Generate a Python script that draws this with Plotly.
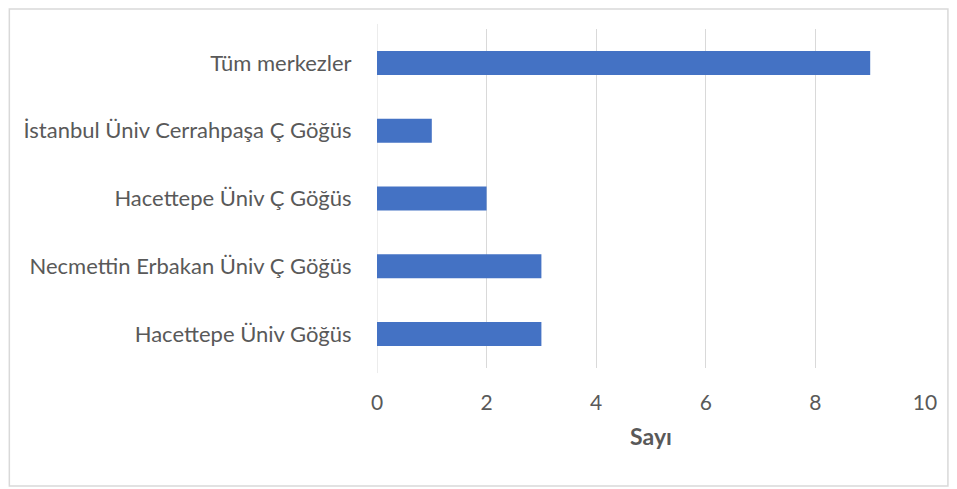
import plotly.graph_objects as go

categories = ["Hacettepe Üniv Göğüs", "Necmettin Erbakan Üniv Ç Göğüs", "Hacettepe Üniv Ç Göğüs",
              "İstanbul Üniv Cerrahpaşa Ç Göğüs", "Tüm merkezler"]
values = [3, 3, 2, 1, 9]
x_ticks = [0, 2, 4, 6, 8, 10]

FONT = "Lato, Carlito, Calibri, sans-serif"
GRAY = "#595959"

fig = go.Figure(go.Bar(
    y=categories, x=values, orientation="h",
    marker=dict(color="#4472C4", line=dict(width=0)),
))

OFF = 8  # page body margin
W, H = 941, 479
L, R, T, B = 377 - OFF, 927 - OFF, 29 - OFF, 368 - OFF
pw, ph = R - L, B - T

fig.update_layout(
    width=W, height=H,
    margin=dict(l=L, r=W - R, t=T, b=H - B),
    paper_bgcolor="white", plot_bgcolor="white",
    bargap=0.646,
    showlegend=False,
    font=dict(family=FONT, color=GRAY, size=22),
    xaxis=dict(
        range=[0, 10], tickvals=x_ticks, showgrid=True, gridcolor="#d9d9d9", gridwidth=1,
        zeroline=False, showline=False,
        tickfont=dict(size=21, color=GRAY),
        ticks="outside", ticklen=16, tickcolor="rgba(0,0,0,0)",
        title=dict(text="<b>Sayı</b>", font=dict(size=23, color=GRAY), standoff=15),
        fixedrange=True,
    ),
    yaxis=dict(
        range=[-0.5, 4.5], showgrid=False, zeroline=False, showline=False,
        tickfont=dict(size=22, color=GRAY),
        ticks="outside", ticklen=20, tickcolor="rgba(0,0,0,0)",
        fixedrange=True,
    ),
    shapes=[
        dict(type="rect", xref="paper", yref="paper",
             x0=(8 - OFF - L) / pw, x1=(950 - OFF - L) / pw,
             y0=(B - (486 - OFF)) / ph, y1=(B - 1) / ph,
             line=dict(color="#d9d9d9", width=1.5), fillcolor="rgba(0,0,0,0)", layer="below"),
        dict(type="line", xref="x", yref="paper", x0=0, x1=0, y0=-0.015, y1=1.015,
             line=dict(color="#d9d9d9", width=1), layer="below"),
    ],
)

fig.write_html("out.html")
